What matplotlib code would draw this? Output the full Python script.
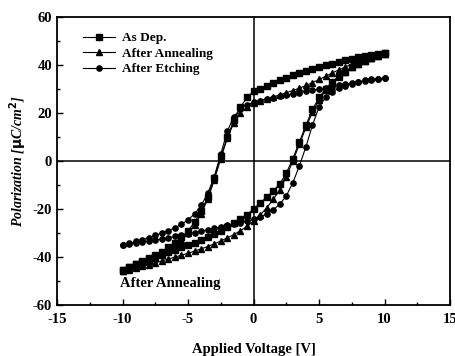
import numpy as np
import matplotlib
matplotlib.use('Agg')
import matplotlib.pyplot as plt
from matplotlib.ticker import MultipleLocator

plt.rcParams['font.family'] = 'Liberation Serif'
plt.rcParams['font.weight'] = 'bold'
plt.rcParams['axes.unicode_minus'] = False

# voltage sweep: upper branch goes 10 -> -10, lower branch -10 -> 10
v_down = [10, 9.5, 9, 8.5, 8, 7.5, 7, 6.5, 6, 5.5, 5, 4.5, 4, 3.5, 3, 2.5, 2, 1.5, 1, 0.5,
          0, -0.5, -1, -1.5, -2, -2.5, -3, -3.5, -4, -4.5, -5, -5.5, -6, -6.5, -7, -7.5,
          -8, -8.5, -9, -9.5, -10]
v_up = v_down[::-1]

# As Dep. (squares)
asdep_upper = [45, 44.6, 44.2, 43.7, 43.2, 42.6, 42, 41.3, 40.6, 39.9, 39.2, 38.4, 37.6, 36.7,
               35.8, 34.8, 33.7, 32.6, 31.4, 30.2, 29, 26.5, 22.5, 17, 10, 2, -7, -15, -21,
               -25.5, -29, -31.8, -34, -36, -37.7, -39.2, -40.5, -41.8, -43, -44.2, -45.3]
asdep_lower = [-45.3, -44, -43, -42, -41, -40, -39, -38, -37, -36, -35, -34, -32.8, -31.6,
               -30.3, -29, -27.5, -26, -24.3, -22.3, -20, -17.5, -15, -12.5, -9.5, -5, 1, 8,
               15, 21.5, 26.5, 30, 33, 35.3, 37.3, 39, 40.5, 41.8, 43, 44, 45]

# After Annealing (triangles)
anneal_upper = [44.5, 43.8, 43, 42.2, 41.3, 40.3, 39.2, 38, 36.7, 35.3, 34, 32.7, 31.5, 30.4,
                29.4, 28.5, 27.6, 26.8, 26, 25.2, 24.2, 22.5, 20, 16, 9.5, 1, -8, -16, -22,
                -26.5, -30, -32.8, -35, -37, -38.7, -40.2, -41.5, -42.8, -44, -45, -46]
anneal_lower = [-46, -45.3, -44.6, -43.9, -43.2, -42.4, -41.6, -40.8, -40, -39.2, -38.4,
                -37.5, -36.6, -35.6, -34.5, -33.3, -32, -30.6, -29, -27.2, -25, -22.5, -19.5,
                -16, -12, -6.5, 0, 7, 14, 20.5, 25.5, 29.5, 32.5, 35, 37.2, 39, 40.5, 41.8,
                43, 43.8, 44.5]

# After Etching (circles)
etch_upper = [34.5, 34.1, 33.7, 33.3, 32.9, 32.4, 32, 31.5, 31, 30.5, 30, 29.5, 29, 28.5, 28,
              27.5, 27, 26.4, 25.8, 25.2, 24.5, 23.5, 21.8, 18.5, 12.5, 3, -6.5, -13.5, -18.5,
              -22, -24.5, -26.3, -27.8, -29, -30, -31, -31.9, -32.7, -33.5, -34.3, -35]
etch_lower = [-35, -34.6, -34.2, -33.8, -33.4, -32.9, -32.4, -31.9, -31.4, -30.9, -30.4,
              -29.8, -29.2, -28.6, -28, -27.4, -26.8, -26.2, -25.6, -25, -24.3, -23.3, -22,
              -20.3, -18, -14.5, -9, -2, 6, 15, 22.5, 26.5, 28.8, 30.3, 31.4, 32.3, 33,
              33.6, 34, 34.3, 34.5]

fig = plt.figure(figsize=(4.56, 3.56), dpi=100)
ax = fig.add_axes([0.125, 0.143, 0.862, 0.809])

series = [
    ('As Dep.', asdep_upper, asdep_lower, 's'),
    ('After Annealing', anneal_upper, anneal_lower, '^'),
    ('After Etching', etch_upper, etch_lower, 'o'),
]
for name, up, low, mk in series:
    v = v_down + v_up
    p = up + low
    ax.plot(v, p, color='black', lw=0.8, marker=mk, ms=3.8, mfc='black',
            mec='black', label=name)

ax.axhline(0, color='black', lw=1.1)
ax.axvline(0, color='black', lw=1.1)

ax.set_xlim(-15, 15)
ax.set_ylim(-60, 60)
ax.xaxis.set_major_locator(MultipleLocator(5))
ax.xaxis.set_minor_locator(MultipleLocator(2.5))
ax.yaxis.set_major_locator(MultipleLocator(20))
ax.yaxis.set_minor_locator(MultipleLocator(10))
ax.tick_params(which='both', direction='in', width=1.0, labelsize=10.5)
ax.tick_params(which='major', length=4)
ax.tick_params(which='minor', length=2.5)
ax.tick_params(axis='x', pad=6)
for s in ax.spines.values():
    s.set_linewidth(1.3)

ax.set_xlabel('Applied Voltage [V]', fontsize=10.5, fontweight='bold', labelpad=12)
ax.set_ylabel(r'Polarization [$\mathbf{\mu}$C/cm$^\mathbf{2}$]', fontsize=10,
              fontweight='bold', style='italic', labelpad=3)

ax.text(-10.2, -51, 'After Annealing', fontsize=10.5, fontweight='bold', va='center')

ax.legend(loc='upper left', frameon=False, fontsize=9.5, handlelength=2.4,
          borderaxespad=0.4, bbox_to_anchor=(0.04, 0.985), labelspacing=0.25,
          handletextpad=0.5)

fig.savefig('out.png', dpi=100)
